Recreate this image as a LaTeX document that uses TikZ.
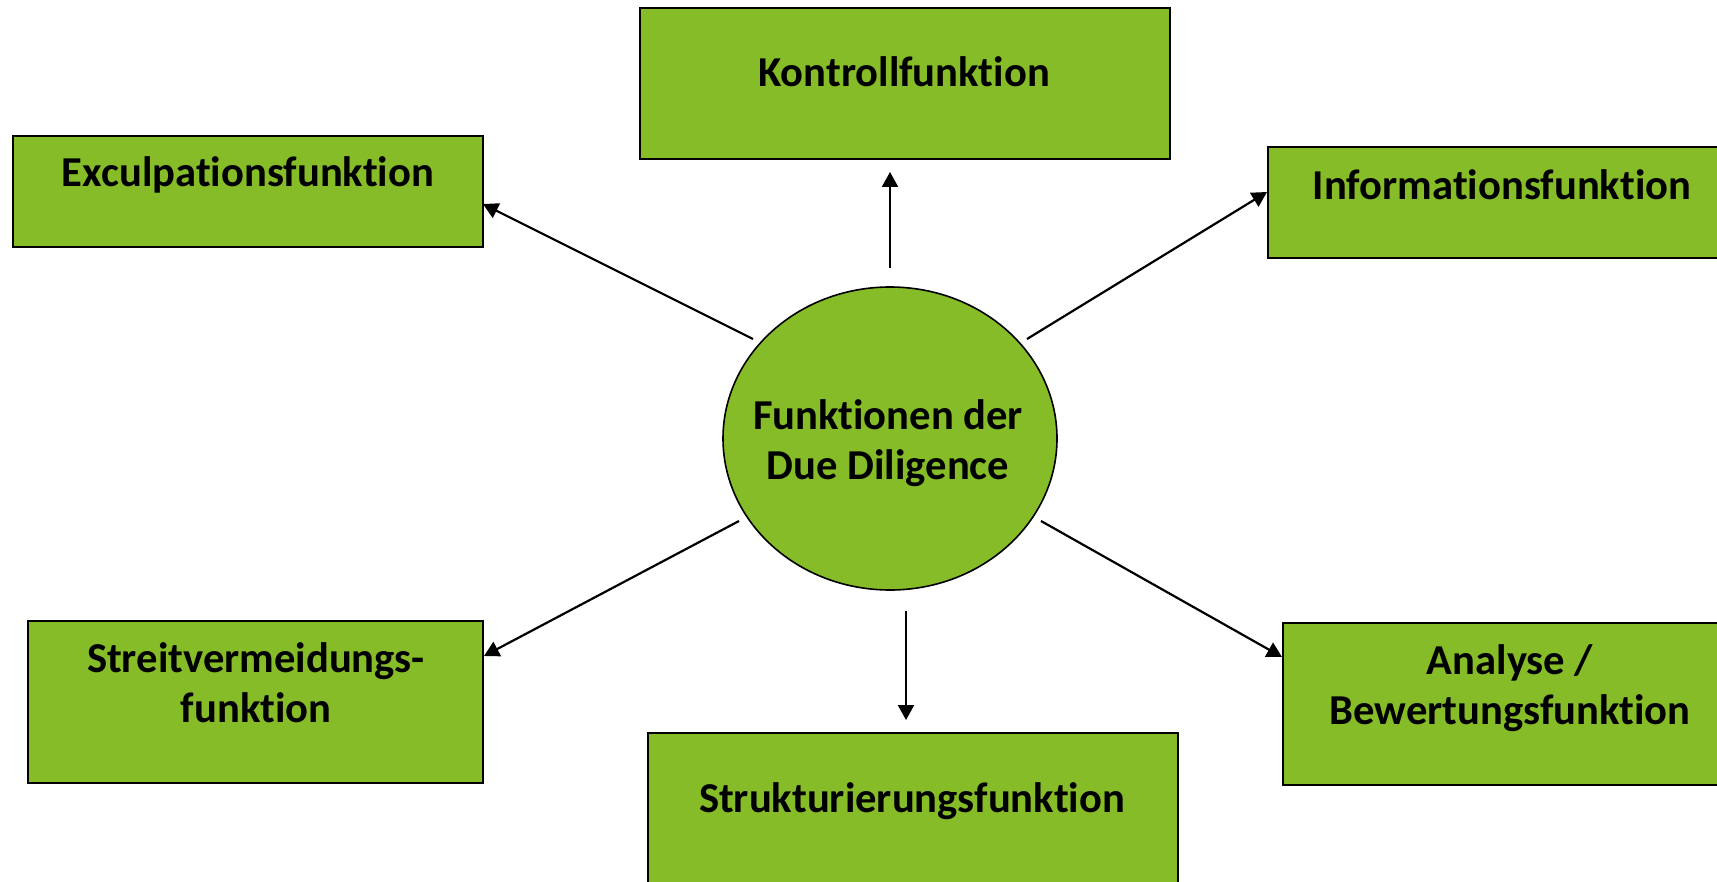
\documentclass[tikz,border=0pt]{standalone}
\usepackage{fontspec}
\setmainfont{Carlito}[Ligatures=NoCommon]
\usetikzlibrary{arrows.meta,shapes.geometric}
\definecolor{boxgreen}{RGB}{134,188,39}
\begin{document}
\begin{tikzpicture}[x=0.5pt,y=-0.5pt,
  funcbox/.style={draw=black,line width=1pt,fill=boxgreen,rectangle,inner sep=0pt},
  centre/.style={draw=black,line width=0.8pt,fill=boxgreen,ellipse,inner sep=0pt,minimum width=167pt,minimum height=151.5pt},
  lbl/.style={font=\bfseries\fontsize{21.3}{25}\selectfont,inner sep=0pt,align=center,text=black},
  conn/.style={draw=black,line width=1.1pt,-{Triangle[length=7.5pt,width=8pt]}}]
\useasboundingbox (0,0) rectangle (1717,882);
\clip (0,0) rectangle (1717,882);
\fill[white] (0,0) rectangle (1717,882);
% boxes
\node[funcbox,minimum width=235pt,minimum height=55.5pt] (exc) at (248,191.5) {};
\node[funcbox,minimum width=265pt,minimum height=75.5pt] (kon) at (905,83.5) {};
\node[funcbox,minimum width=236pt,minimum height=55.5pt] (inf) at (1504,202.5) {};
\node[funcbox,minimum width=227.5pt,minimum height=81pt] (str) at (255.5,702) {};
\node[funcbox,minimum width=228.5pt,minimum height=81pt] (ana) at (1511.5,704) {};
\node[funcbox,minimum width=265pt,minimum height=83.5pt] (stu) at (913,816.5) {};
\node[centre] (dd) at (890,438.5) {};
% labels
\node[lbl,anchor=base] (exc-t) at (248,187) {Exculpationsfunktion};
\node[lbl,anchor=base] (kon-t) at (904,87) {Kontrollfunktion};
\node[lbl,anchor=base] (inf-t) at (1502,199) {Informationsfunktion};
\node[lbl] (str-t) at (256,683) {Streitvermeidungs-\\funktion};
\node[lbl] (ana-t) at (1510,688) {Analyse /\\Bewertungsfunktion};
\node[lbl,anchor=base] (stu-t) at (912,812) {Strukturierungsfunktion};
\node[lbl] (dd-t) at (888,443) {Funktionen der\\Due Diligence};
% connector ends
\coordinate (a1) at (890,268);  \coordinate (b1) at (890,172);
\coordinate (a2) at (753,339);  \coordinate (b2) at (483,204);
\coordinate (a3) at (1027,339); \coordinate (b3) at (1267,192);
\coordinate (a4) at (739,521);  \coordinate (b4) at (484,656);
\coordinate (a5) at (1041,521); \coordinate (b5) at (1282,657);
\coordinate (a6) at (906,611);  \coordinate (b6) at (906,720);
\draw[conn] (a1) -- (b1);
\draw[conn] (a2) -- (b2);
\draw[conn] (a3) -- (b3);
\draw[conn] (a4) -- (b4);
\draw[conn] (a5) -- (b5);
\draw[conn] (a6) -- (b6);
\end{tikzpicture}
\end{document}
